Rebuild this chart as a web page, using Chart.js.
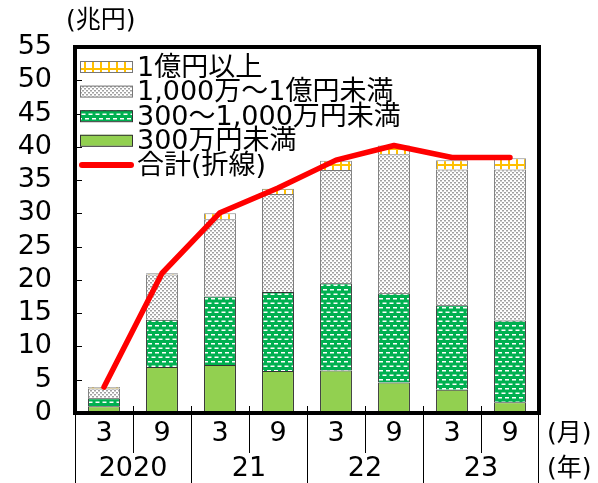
<!DOCTYPE html>
<html>
<head>
<meta charset="utf-8">
<script src="https://cdn.jsdelivr.net/npm/chart.js@4.4.1/dist/chart.umd.min.js"></script>
<style>
    html, body { margin: 0; padding: 0; background: #fff; }
    #wrap { width: 598px; height: 483px; position: relative; }
</style>
</head>
<body>
<div id="wrap"><canvas id="chart" width="598" height="483"></canvas></div>
<script>
// Data (兆円)
const months = ['3', '9', '3', '9', '3', '9', '3', '9'];
const years = ['2020', '21', '22', '23'];
const under3m = [1.0, 6.9, 7.2, 6.3, 6.4, 4.6, 3.5, 1.6];
const from3mTo10m = [1.2, 7.1, 10.3, 11.9, 13.1, 13.4, 12.7, 12.3];
const from10mTo100m = [1.5, 6.8, 11.6, 14.7, 17.0, 20.9, 20.4, 22.7];
const over100m = [0.2, 0.2, 0.9, 0.8, 1.4, 1.3, 1.4, 1.7];
const total = [3.9, 21.0, 30.1, 33.8, 38.0, 40.2, 38.4, 38.4];
const legendLabels = ['1億円以上', '1,000万～1億円未満', '300～1,000万円未満', '300万円未満', '合計(折線)'];

const FONT = "'DejaVu Sans', 'Noto Sans CJK JP', sans-serif";

// Fill patterns
function makePattern(kind) {
    const c = document.createElement('canvas');
    const g = c.getContext('2d');
    if (kind === 'grid') {
        c.width = 8; c.height = 8;
        g.fillStyle = '#fff';
        g.fillRect(0, 0, 8, 8);
        g.fillStyle = '#ffc000';
        g.fillRect(0, 4, 8, 2);
        g.fillRect(4, 0, 2, 8);
    } else if (kind === 'dots') {
        c.width = 4; c.height = 4;
        g.fillStyle = '#fff';
        g.fillRect(0, 0, 4, 4);
        g.fillStyle = '#a0a0a0';
        g.fillRect(0, 0, 2, 1.5);
        g.fillRect(2, 2, 2, 1.5);
    } else if (kind === 'dash') {
        c.width = 7; c.height = 9;
        g.fillStyle = '#00b050';
        g.fillRect(0, 0, 7, 9);
        g.fillStyle = '#fff';
        g.fillRect(1, 1, 4, 1.5);
        g.fillRect(4.5, 5.5, 4, 1.5);
        g.fillRect(-2.5, 5.5, 4, 1.5);
    }
    return g.createPattern(c, 'repeat');
}

const fills = {
    over: makePattern('grid'),
    mid: makePattern('dots'),
    low: makePattern('dash'),
    small: '#92d050'
};

// Frame, ticks, year labels, units and legend
const decorations = {
    id: 'decorations',
    afterDraw(chart) {
        const ctx = chart.ctx;
        const area = chart.chartArea;
        const y = chart.scales.y;
        const n = months.length;
        const step = (area.right - area.left) / n;
        ctx.save();
        ctx.strokeStyle = '#000';

        // inward y ticks
        ctx.lineWidth = 1;
        ctx.beginPath();
        for (let v = 5; v < 55; v += 5) {
            const py = Math.round(y.getPixelForValue(v)) + 0.5;
            ctx.moveTo(area.left, py);
            ctx.lineTo(area.left + 7, py);
        }
        // category boundary ticks
        for (let i = 1; i < n; i++) {
            const px = Math.round(area.left + step * i) + 0.5;
            ctx.moveTo(px, area.bottom - 7);
            ctx.lineTo(px, i % 2 === 1 ? area.bottom + 40 : chart.height);
        }
        ctx.moveTo(area.left + 0.5, area.bottom);
        ctx.lineTo(area.left + 0.5, chart.height);
        ctx.moveTo(area.right - 0.5, area.bottom);
        ctx.lineTo(area.right - 0.5, chart.height);
        ctx.stroke();

        // thick frame
        ctx.lineWidth = 4;
        ctx.strokeRect(area.left, area.top, area.right - area.left, area.bottom - area.top);

        // year labels
        ctx.fillStyle = '#000';
        ctx.font = '27px ' + FONT;
        ctx.textAlign = 'center';
        ctx.textBaseline = 'middle';
        years.forEach((yr, i) => {
            ctx.fillText(yr, area.left + step * (2 * i + 1), 469);
        });

        // units
        ctx.textAlign = 'left';
        ctx.font = '25px ' + FONT;
        ctx.fillText('(兆円)', 66, 21);
        ctx.fillText('(月)', 547, 434);
        ctx.fillText('(年)', 547, 469);

        // legend
        const rows = [
            { fill: fills.over, border: '#777' },
            { fill: fills.mid, border: '#777' },
            { fill: fills.low, border: '#333' },
            { fill: fills.small, border: '#333' },
            { line: true }
        ];
        ctx.font = '27px ' + FONT;
        rows.forEach((r, i) => {
            const cy = 66.5 + i * 24.6;
            if (r.line) {
                ctx.strokeStyle = '#ff0000';
                ctx.lineWidth = 6;
                ctx.lineCap = 'round';
                ctx.beginPath();
                ctx.moveTo(82, cy);
                ctx.lineTo(131, cy);
                ctx.stroke();
            } else {
                ctx.fillStyle = r.fill;
                ctx.fillRect(80, cy - 5.5, 52, 11);
                ctx.strokeStyle = r.border;
                ctx.lineWidth = 1;
                ctx.strokeRect(80.5, cy - 5, 52, 11);
            }
            ctx.fillStyle = '#000';
            ctx.fillText(legendLabels[i], 137, cy + 2);
        });
        ctx.restore();
    }
};

new Chart(document.getElementById('chart'), {
    data: {
        labels: months,
        datasets: [
            {
                type: 'line',
                label: legendLabels[4],
                data: total,
                borderColor: '#ff0000',
                borderWidth: 5.5,
                borderCapStyle: 'round',
                borderJoinStyle: 'round',
                pointRadius: 0,
                tension: 0,
                stack: 'line',
                order: 0
            },
            {
                type: 'bar', label: legendLabels[3], data: under3m,
                backgroundColor: fills.small, borderColor: '#333', borderWidth: 1,
                stack: 'bars', order: 1
            },
            {
                type: 'bar', label: legendLabels[2], data: from3mTo10m,
                backgroundColor: fills.low, borderColor: '#333', borderWidth: 1,
                stack: 'bars', order: 1
            },
            {
                type: 'bar', label: legendLabels[1], data: from10mTo100m,
                backgroundColor: fills.mid, borderColor: '#777', borderWidth: 1,
                stack: 'bars', order: 1
            },
            {
                type: 'bar', label: legendLabels[0], data: over100m,
                backgroundColor: fills.over, borderColor: '#888', borderWidth: 1,
                stack: 'bars', order: 1
            }
        ]
    },
    options: {
        responsive: false,
        animation: false,
        devicePixelRatio: 1,
        layout: { padding: { top: 47, right: 59, left: 0, bottom: 0 } },
        datasets: { bar: { barPercentage: 0.55, categoryPercentage: 1 } },
        plugins: { legend: { display: false }, tooltip: { enabled: false } },
        scales: {
            x: {
                stacked: true,
                grid: { display: false, drawTicks: false },
                border: { display: false },
                ticks: { color: '#000', font: { size: 27, family: FONT }, padding: 5, maxRotation: 0 },
                afterFit(scale) { scale.height = 70; }
            },
            y: {
                stacked: true,
                min: 0,
                max: 55,
                grid: { display: false, drawTicks: false },
                border: { display: false },
                ticks: { stepSize: 5, autoSkip: false, color: '#000', font: { size: 27, family: FONT }, padding: 23 },
                afterFit(scale) { scale.width = 75; }
            }
        }
    },
    plugins: [decorations]
});
</script>
</body>
</html>
